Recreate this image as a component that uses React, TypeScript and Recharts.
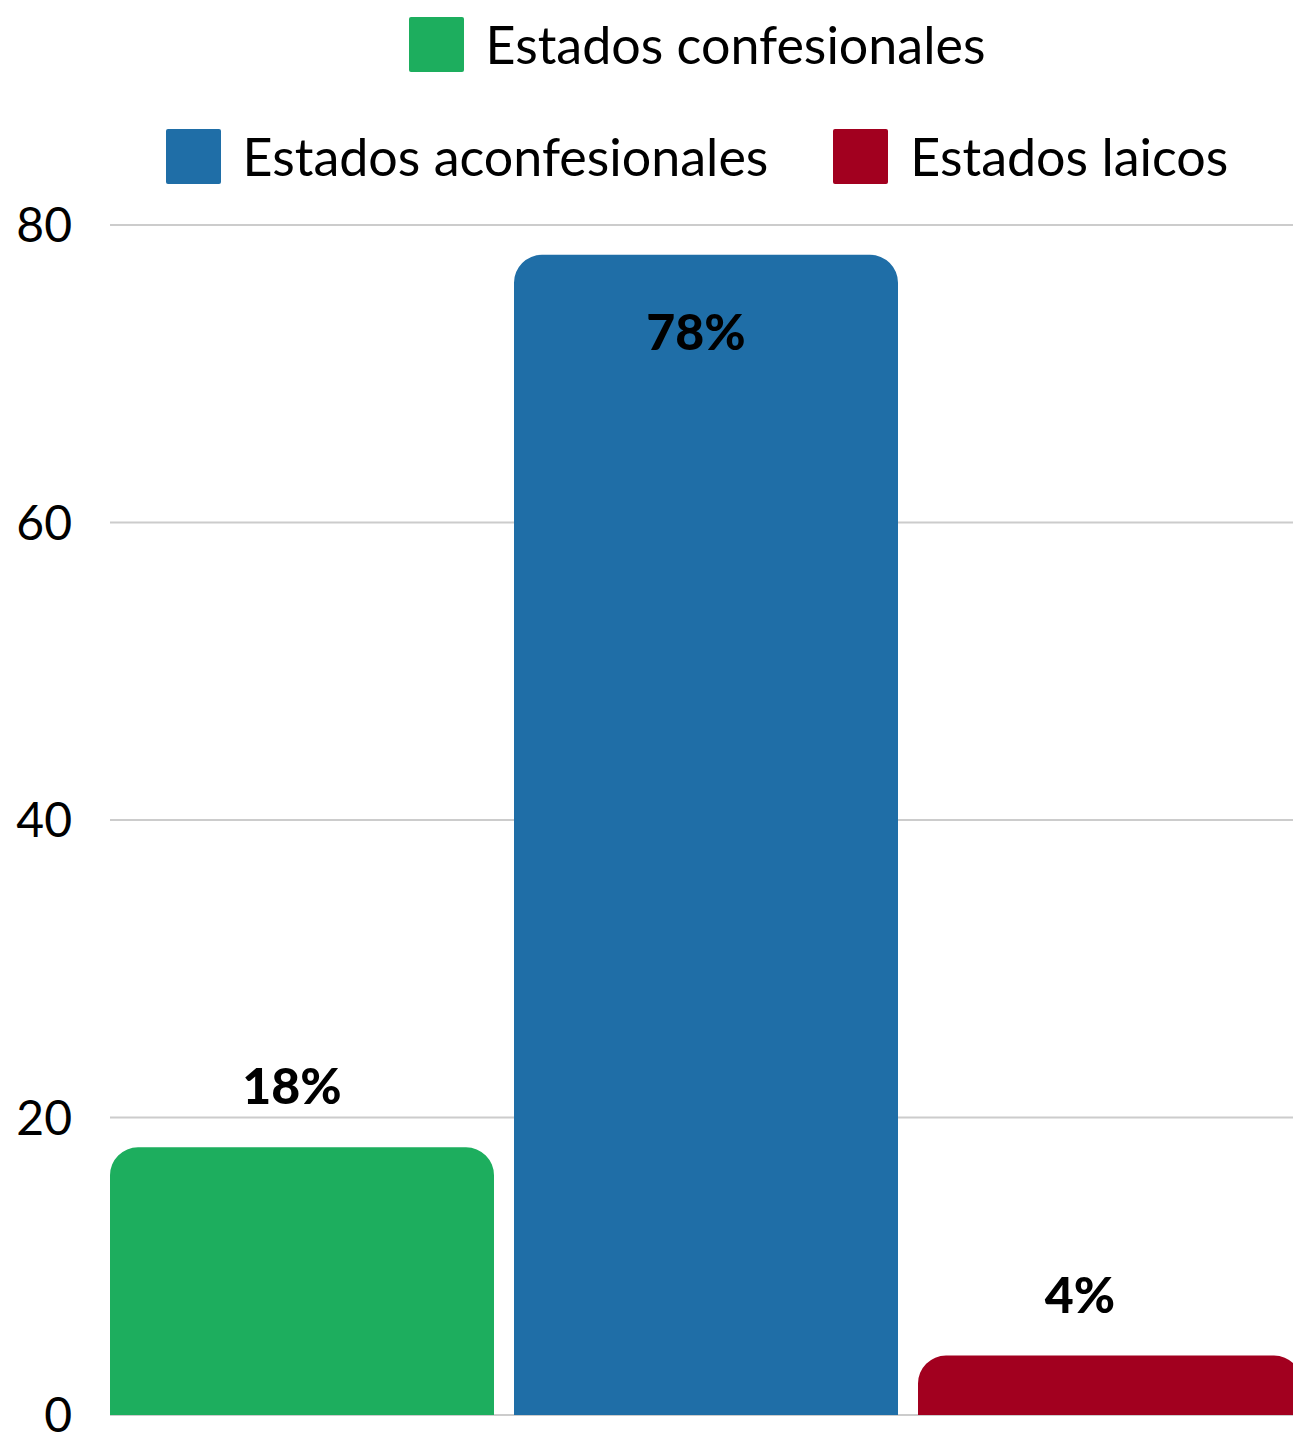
import React from 'react';
import { BarChart, Bar, XAxis, YAxis, CartesianGrid, Legend, LabelList } from 'recharts';

const seriesKeys = ['confesionales', 'aconfesionales', 'laicos'];
const seriesNames = ['Estados confesionales', 'Estados aconfesionales', 'Estados laicos'];
const seriesValues = [18, 78, 4];
const seriesColors = ['#1dae5e', '#1f6ea7', '#a2001f'];
const labelShift = [-10, -10, -30];
const yTicks = [0, 20, 40, 60, 80];
const legendRows = [[0], [1, 2]];

const row: Record<string, any> = { name: 'Estados' };
seriesKeys.forEach((k, i) => { row[k] = seriesValues[i]; });
const data = [row];

const FONT = 'Lato, "Open Sans", sans-serif';

const makeLabel = (si: number) => (props: any) => {
  const { x, y, width, value } = props;
  const cx = Number(x) + Number(width) / 2 + labelShift[si];
  const inside = Number(value) > 50;
  const ty = inside ? Number(y) + 95 : Number(y) - 43;
  return (
    <text x={cx} y={ty} textAnchor="middle" fontFamily={FONT} fontWeight={900} fontSize={50} fill="#000">
      {`${value}%`}
    </text>
  );
};

const renderLegend = () => (
  <div style={{ width: 1394, fontFamily: FONT }}>
    {legendRows.map((r, ri) => (
      <div key={ri} style={{ display: 'flex', justifyContent: 'center', alignItems: 'center', height: 55, marginTop: ri === 0 ? 17 : 57 }}>
        {r.map((i, j) => (
          <div key={i} style={{ display: 'flex', alignItems: 'center', marginLeft: j > 0 ? 65 : 0 }}>
            <div style={{ width: 55, height: 55, background: seriesColors[i], borderRadius: 2 }} />
            <span style={{ marginLeft: 22, fontSize: 52, color: '#000', lineHeight: '55px', whiteSpace: 'nowrap' }}>{seriesNames[i]}</span>
          </div>
        ))}
      </div>
    ))}
  </div>
);

export default function App() {
  return (
    <div style={{ position: 'absolute', left: 0, top: 0, width: 1293, height: 1432, overflow: 'hidden', background: '#fff' }}>
      <BarChart
        width={1301}
        height={1432}
        data={data}
        margin={{ top: 225, right: 0, bottom: 17, left: 0 }}
        barCategoryGap={0}
        barGap={20}
      >
        <CartesianGrid horizontal vertical={false} stroke="#cccccc" strokeWidth={2} />
        <XAxis dataKey="name" height={0} tick={false} tickLine={false} axisLine={{ stroke: '#888888', strokeWidth: 2 }} />
        <YAxis
          domain={[0, 80]}
          ticks={yTicks}
          interval={0}
          width={110}
          axisLine={false}
          tickLine={false}
          tickSize={0}
          tickMargin={38}
          tick={{ fill: '#000', fontSize: 48, fontFamily: FONT }}
        />
        <Legend verticalAlign="middle" align="center" content={renderLegend} wrapperStyle={{ top: 0, left: 0, width: 1394 }} />
        {seriesKeys.map((k, i) => (
          <Bar key={k} dataKey={k} name={seriesNames[i]} fill={seriesColors[i]} radius={[28, 28, 0, 0]} isAnimationActive={false}>
            <LabelList dataKey={k} content={makeLabel(i)} />
          </Bar>
        ))}
      </BarChart>
    </div>
  );
}
